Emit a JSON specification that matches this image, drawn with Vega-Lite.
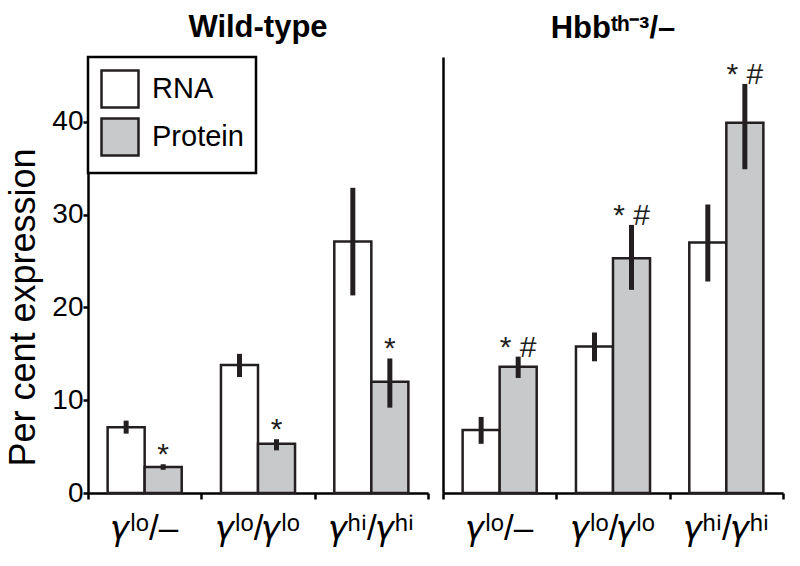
{
  "$schema": "https://vega.github.io/schema/vega-lite/v6.json",
  "background": "white",
  "padding": {"left": 5, "top": 11, "right": 10, "bottom": 5},
  "spacing": 11,
  "config": {
    "font": "Liberation Sans",
    "view": {"stroke": null},
    "axis": {"domainColor": "black", "tickColor": "black", "labelColor": "black", "titleColor": "black", "grid": false, "domainWidth": 2.5, "tickWidth": 2.5},
    "title": {"color": "black"}
  },
  "datasets": {
    "d": [
      {"panel": "WT", "genotype": "𝛾ˡᵒ/–", "type": "RNA", "value": 7.1, "lo": 6.4, "hi": 7.8, "annot": ""},
      {"panel": "WT", "genotype": "𝛾ˡᵒ/–", "type": "Protein", "value": 2.8, "lo": 2.5, "hi": 3.1, "annot": "*"},
      {"panel": "WT", "genotype": "𝛾ˡᵒ/𝛾ˡᵒ", "type": "RNA", "value": 13.8, "lo": 12.5, "hi": 15.0, "annot": ""},
      {"panel": "WT", "genotype": "𝛾ˡᵒ/𝛾ˡᵒ", "type": "Protein", "value": 5.3, "lo": 4.6, "hi": 5.8, "annot": "*"},
      {"panel": "WT", "genotype": "𝛾ʰⁱ/𝛾ʰⁱ", "type": "RNA", "value": 27.1, "lo": 21.3, "hi": 32.9, "annot": ""},
      {"panel": "WT", "genotype": "𝛾ʰⁱ/𝛾ʰⁱ", "type": "Protein", "value": 12.0, "lo": 9.2, "hi": 14.5, "annot": "*"},
      {"panel": "Hbb", "genotype": "𝛾ˡᵒ/–", "type": "RNA", "value": 6.8, "lo": 5.3, "hi": 8.2, "annot": ""},
      {"panel": "Hbb", "genotype": "𝛾ˡᵒ/–", "type": "Protein", "value": 13.6, "lo": 12.4, "hi": 14.7, "annot": "* #"},
      {"panel": "Hbb", "genotype": "𝛾ˡᵒ/𝛾ˡᵒ", "type": "RNA", "value": 15.8, "lo": 14.2, "hi": 17.3, "annot": ""},
      {"panel": "Hbb", "genotype": "𝛾ˡᵒ/𝛾ˡᵒ", "type": "Protein", "value": 25.3, "lo": 21.9, "hi": 28.9, "annot": "* #"},
      {"panel": "Hbb", "genotype": "𝛾ʰⁱ/𝛾ʰⁱ", "type": "RNA", "value": 27.0, "lo": 22.8, "hi": 31.1, "annot": ""},
      {"panel": "Hbb", "genotype": "𝛾ʰⁱ/𝛾ʰⁱ", "type": "Protein", "value": 39.9, "lo": 34.9, "hi": 44.1, "annot": "* #"}
    ]
  },
  "resolve": {"scale": {"fill": "independent"}},
  "hconcat": [
    {
      "width": 340,
      "height": 436,
      "title": {"text": "Wild-type", "fontSize": 31, "fontWeight": "bold", "offset": 12},
      "data": {"name": "d"},
      "transform": [{"filter": "datum.panel == 'WT'"}],
      "encoding": {
        "x": {"field": "genotype", "type": "nominal", "sort": ["𝛾ˡᵒ/–", "𝛾ˡᵒ/𝛾ˡᵒ", "𝛾ʰⁱ/𝛾ʰⁱ"],
          "scale": {"paddingInner": 0, "paddingOuter": 0},
          "axis": {"title": null, "tickBand": "extent", "labelAngle": 0, "labelFontSize": 35, "tickSize": 6, "labelPadding": 12}},
        "xOffset": {"field": "type", "type": "nominal", "scale": {"domain": ["RNA", "Protein"], "paddingInner": 0, "paddingOuter": 0.53}}
      },
      "layer": [
        {
          "mark": {"type": "bar", "stroke": "#231f20", "strokeWidth": 2.5},
          "encoding": {
            "y": {"field": "value", "type": "quantitative", "scale": {"domain": [0, 47], "nice": false},
              "axis": {"values": [0, 10, 20, 30, 40], "title": "Per cent expression", "titleFontSize": 36, "titleFontWeight": "normal", "titleY": 250, "labelFontSize": 28, "tickSize": 5, "labelPadding": 0, "titlePadding": 9}},
            "fill": {"field": "type", "type": "nominal", "scale": {"domain": ["RNA", "Protein"], "range": ["white", "#c8c9cb"]},
              "legend": {"title": null, "orient": "none", "legendX": 0, "legendY": 0, "strokeColor": "black", "fillColor": "white", "padding": 12, "symbolType": "square", "symbolSize": 1369, "symbolStrokeColor": "#231f20", "symbolStrokeWidth": 2.5, "labelFontSize": 29, "labelColor": "black", "labelOffset": 12, "rowPadding": 0,
                "encode": {"legend": {"update": {"strokeWidth": {"value": 2.5}}}}}}
          }
        },
        {
          "mark": {"type": "rule", "strokeWidth": 5, "color": "#231f20"},
          "encoding": {"y": {"field": "lo", "type": "quantitative"}, "y2": {"field": "hi"}}
        },
        {
          "mark": {"type": "text", "fontSize": 30, "baseline": "bottom", "dy": 6, "color": "#231f20"},
          "encoding": {"y": {"field": "hi", "type": "quantitative"}, "text": {"field": "annot"}}
        }
      ]
    },
    {
      "width": 340,
      "height": 436,
      "title": {"text": "Hbbᵗʰ⁻³/–", "fontSize": 31, "fontWeight": "bold", "offset": 12},
      "data": {"name": "d"},
      "transform": [{"filter": "datum.panel == 'Hbb'"}],
      "encoding": {
        "x": {"field": "genotype", "type": "nominal", "sort": ["𝛾ˡᵒ/–", "𝛾ˡᵒ/𝛾ˡᵒ", "𝛾ʰⁱ/𝛾ʰⁱ"],
          "scale": {"paddingInner": 0, "paddingOuter": 0},
          "axis": {"title": null, "tickBand": "extent", "labelAngle": 0, "labelFontSize": 35, "tickSize": 6, "labelPadding": 12}},
        "xOffset": {"field": "type", "type": "nominal", "scale": {"domain": ["RNA", "Protein"], "paddingInner": 0, "paddingOuter": 0.53}}
      },
      "layer": [
        {
          "mark": {"type": "bar", "stroke": "#231f20", "strokeWidth": 2.5},
          "encoding": {
            "y": {"field": "value", "type": "quantitative", "scale": {"domain": [0, 47], "nice": false},
              "axis": {"labels": false, "ticks": false, "title": null}},
            "fill": {"field": "type", "type": "nominal", "scale": {"domain": ["RNA", "Protein"], "range": ["white", "#c8c9cb"]}, "legend": null}
          }
        },
        {
          "mark": {"type": "rule", "strokeWidth": 5, "color": "#231f20"},
          "encoding": {"y": {"field": "lo", "type": "quantitative"}, "y2": {"field": "hi"}}
        },
        {
          "mark": {"type": "text", "fontSize": 30, "baseline": "bottom", "dy": 6, "color": "#231f20"},
          "encoding": {"y": {"field": "hi", "type": "quantitative"}, "text": {"field": "annot"}}
        }
      ]
    }
  ]
}
